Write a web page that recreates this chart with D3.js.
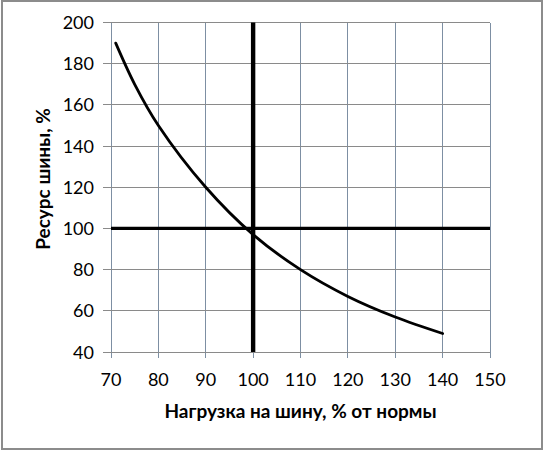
<!DOCTYPE html>
<html><head><meta charset="utf-8">
<script src="https://cdn.jsdelivr.net/npm/d3@7"></script>
<style>
html,body{margin:0;padding:0;background:#fff;}
svg{display:block;}
</style></head>
<body>
<svg id="c" width="546" height="451"></svg>
<script>
const loadPct = [71, 75, 80, 90, 100, 110, 120, 130, 140];
const resourcePct = [190, 170, 150, 120, 97, 80, 67, 57, 49];
const xTicks = [70, 80, 90, 100, 110, 120, 130, 140, 150];
const yTicks = [40, 60, 80, 100, 120, 140, 160, 180, 200];
const refX = [100];
const refY = [100];
const xTitle = "Нагрузка на шину, % от нормы";
const yTitle = "Ресурс шины, %";

const svg = d3.select("#c");
const font = "Lato, 'Open Sans', sans-serif";
const m = {left:111, right:490, top:22.5, bottom:352};
const x = d3.scaleLinear().domain([70,150]).range([m.left, m.right]);
const y = d3.scaleLinear().domain([40,200]).range([m.bottom, m.top]);

// outer border
svg.append("rect").attr("x",2).attr("y",1).attr("width",540).attr("height",448)
  .attr("fill","#fff").attr("stroke","#8c8c8c").attr("stroke-width",2);

// grid
svg.append("g").selectAll("line").data(xTicks).join("line")
  .attr("x1",d=>x(d)).attr("x2",d=>x(d)).attr("y1",m.top).attr("y2",m.bottom+6)
  .attr("stroke","#7d8fa3").attr("stroke-width",1).attr("shape-rendering","crispEdges");
svg.append("g").selectAll("line").data(yTicks).join("line")
  .attr("x1",m.left-8).attr("x2",m.right).attr("y1",d=>y(d)).attr("y2",d=>y(d))
  .attr("stroke","#8a8a8a").attr("stroke-width",1).attr("shape-rendering","crispEdges");

// tick labels
svg.append("g").selectAll("text").data(xTicks).join("text")
  .attr("x",d=>x(d)).attr("y",386).attr("text-anchor","middle")
  .attr("font-family",font).attr("font-size",18).attr("fill","#000").text(d=>d);
svg.append("g").selectAll("text").data(yTicks).join("text")
  .attr("x",94).attr("y",d=>y(d)+6.5).attr("text-anchor","end")
  .attr("font-family",font).attr("font-size",18).attr("fill","#000").text(d=>d);

// reference lines
svg.append("g").selectAll("line").data(refY).join("line")
  .attr("x1",m.left).attr("x2",m.right).attr("y1",d=>y(d)).attr("y2",d=>y(d))
  .attr("stroke","#000").attr("stroke-width",3.2);
svg.append("g").selectAll("line").data(refX).join("line")
  .attr("x1",d=>x(d)).attr("x2",d=>x(d)).attr("y1",m.top).attr("y2",m.bottom)
  .attr("stroke","#000").attr("stroke-width",4.4);

// curve
const pts = loadPct.map((v,i)=>[v, resourcePct[i]]);
svg.append("path").datum(pts)
  .attr("d", d3.line().x(d=>x(d[0])).y(d=>y(d[1])).curve(d3.curveCatmullRom.alpha(0.5)))
  .attr("fill","none").attr("stroke","#000").attr("stroke-width",2.8).attr("stroke-linecap","round");

// titles
svg.append("text").attr("x",(m.left+m.right)/2).attr("y",418).attr("text-anchor","middle")
  .attr("font-family",font).attr("font-weight","bold").attr("font-size",19).text(xTitle);
svg.append("text").attr("transform","translate(50,179) rotate(-90)").attr("text-anchor","middle")
  .attr("font-family",font).attr("font-weight","bold").attr("font-size",19).text(yTitle);
</script>
</body></html>
